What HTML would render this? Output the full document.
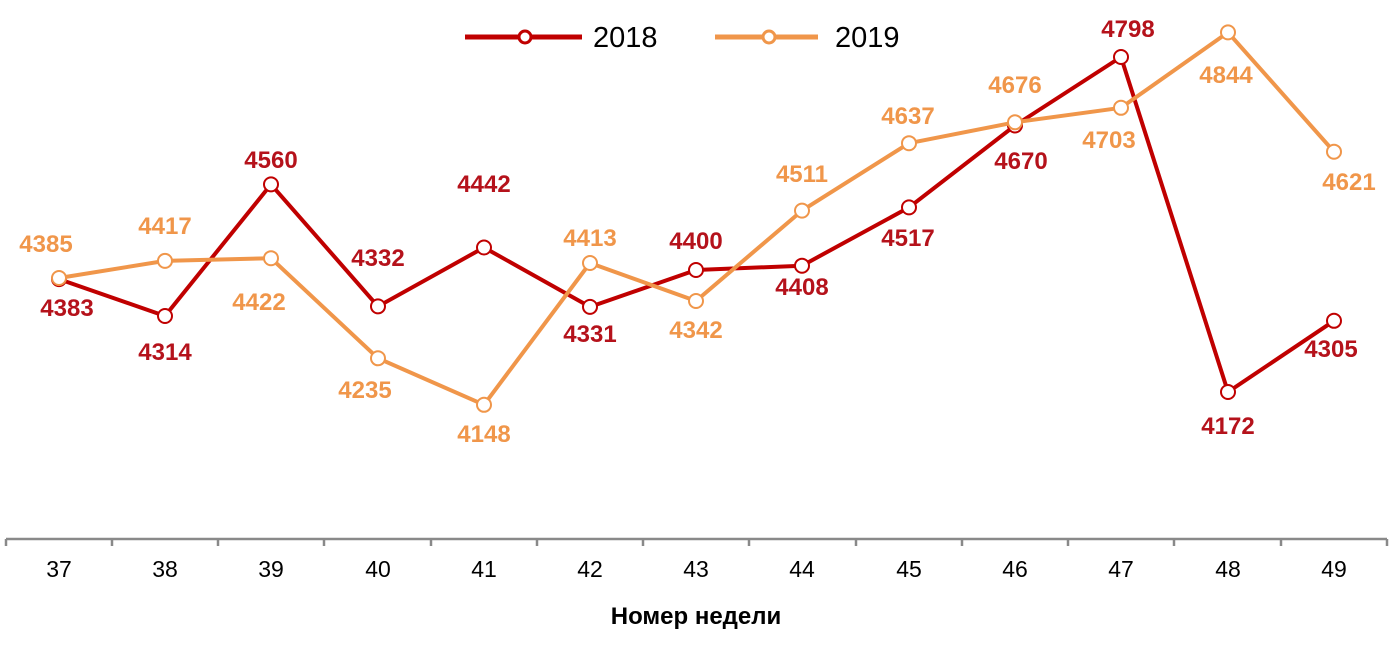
<!DOCTYPE html>
<html><head><meta charset="utf-8"><style>body{margin:0;background:#fff}svg{display:block}text{font-family:"Liberation Sans",Arial,sans-serif}</style></head><body>
<svg width="1393" height="646" viewBox="0 0 1393 646">
<g stroke="#898989" stroke-width="2.5" fill="none">
<line x1="6" y1="539" x2="1387" y2="539"/>
<path d="M6 539v7M112 539v7M218 539v7M324 539v7M431 539v7M537 539v7M643 539v7M749 539v7M856 539v7M962 539v7M1068 539v7M1174 539v7M1281 539v7M1387 539v7"/>
</g>
<g font-size="23" text-anchor="middle" fill="#000">
<text x="59" y="577">37</text><text x="165" y="577">38</text><text x="271" y="577">39</text><text x="378" y="577">40</text><text x="484" y="577">41</text><text x="590" y="577">42</text><text x="696" y="577">43</text><text x="802" y="577">44</text><text x="909" y="577">45</text><text x="1015" y="577">46</text><text x="1121" y="577">47</text><text x="1228" y="577">48</text><text x="1334" y="577">49</text>
</g>
<text x="696" y="624" font-size="24" font-weight="bold" text-anchor="middle">Номер недели</text>
<line x1="465" y1="37" x2="582" y2="37" stroke="#c00000" stroke-width="5"/>
<circle cx="525" cy="37" r="6" fill="#fff" stroke="#c00000" stroke-width="3"/>
<text x="593" y="47" font-size="29">2018</text>
<line x1="715" y1="37" x2="818" y2="37" stroke="#f0964a" stroke-width="5"/>
<circle cx="769" cy="37" r="6" fill="#fff" stroke="#f0964a" stroke-width="3"/>
<text x="835" y="47" font-size="29">2019</text>
<polyline fill="none" stroke="#c00000" stroke-width="4" stroke-linejoin="round" points="59,279.1 165,316 271,184.4 378,306.4 484,247.5 590,306.9 696,270 802,265.7 909,207.4 1015,125.5 1121,57 1228,392 1334,320.8"/>
<g fill="#fff" stroke="#c00000" stroke-width="2">
<circle cx="59" cy="279.1" r="7"/><circle cx="165" cy="316" r="7"/><circle cx="271" cy="184.4" r="7"/><circle cx="378" cy="306.4" r="7"/><circle cx="484" cy="247.5" r="7"/><circle cx="590" cy="306.9" r="7"/><circle cx="696" cy="270" r="7"/><circle cx="802" cy="265.7" r="7"/><circle cx="909" cy="207.4" r="7"/><circle cx="1015" cy="125.5" r="7"/><circle cx="1121" cy="57" r="7"/><circle cx="1228" cy="392" r="7"/><circle cx="1334" cy="320.8" r="7"/>
</g>
<polyline fill="none" stroke="#f0964a" stroke-width="4" stroke-linejoin="round" points="59,278 165,260.9 271,258.2 378,358.3 484,404.8 590,263 696,301 802,210.6 909,143.2 1015,122.3 1121,107.8 1228,32.4 1334,151.7"/>
<g fill="#fff" stroke="#f0964a" stroke-width="2">
<circle cx="59" cy="278" r="7"/><circle cx="165" cy="260.9" r="7"/><circle cx="271" cy="258.2" r="7"/><circle cx="378" cy="358.3" r="7"/><circle cx="484" cy="404.8" r="7"/><circle cx="590" cy="263" r="7"/><circle cx="696" cy="301" r="7"/><circle cx="802" cy="210.6" r="7"/><circle cx="909" cy="143.2" r="7"/><circle cx="1015" cy="122.3" r="7"/><circle cx="1121" cy="107.8" r="7"/><circle cx="1228" cy="32.4" r="7"/><circle cx="1334" cy="151.7" r="7"/>
</g>
<g font-size="24" font-weight="bold" text-anchor="middle" fill="#b5121b">
<text x="67" y="316">4383</text><text x="165" y="360">4314</text><text x="271" y="168">4560</text><text x="378" y="266">4332</text><text x="484" y="192">4442</text><text x="590" y="342">4331</text><text x="696" y="249">4400</text><text x="802" y="295">4408</text><text x="908" y="246">4517</text><text x="1021" y="169">4670</text><text x="1128" y="37">4798</text><text x="1228" y="434">4172</text><text x="1331" y="357">4305</text>
</g>
<g font-size="24" font-weight="bold" text-anchor="middle" fill="#f0964a">
<text x="46" y="252">4385</text><text x="165" y="234">4417</text><text x="259" y="310">4422</text><text x="365" y="398">4235</text><text x="484" y="442">4148</text><text x="590" y="246">4413</text><text x="696" y="338">4342</text><text x="802" y="182">4511</text><text x="908" y="124">4637</text><text x="1015" y="93">4676</text><text x="1109" y="148">4703</text><text x="1226" y="83">4844</text><text x="1349" y="190">4621</text>
</g>
</svg>
</body></html>
